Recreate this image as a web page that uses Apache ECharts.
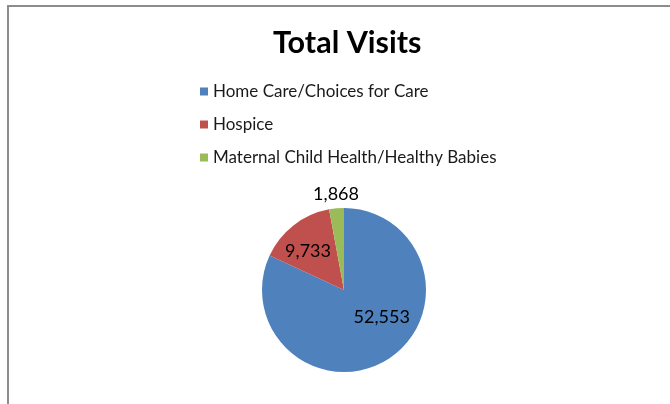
<!DOCTYPE html>
<html>
<head>
<meta charset="utf-8">
<script src="https://cdn.jsdelivr.net/npm/echarts@6/dist/echarts.min.js"></script>
<style>
    html, body { margin: 0; padding: 0; background: #fff; }
    #frame { position: absolute; left: 7px; top: 5px; width: 680px; height: 420px;
             border-top: 2px solid #8c8c8c; border-left: 2px solid #8c8c8c; }
    #main { position: absolute; left: 0; top: 0; width: 670px; height: 404px; }
</style>
</head>
<body>
<div id="frame"></div>
<div id="main"></div>
<script>
var categories = ['Home Care/Choices for Care', 'Hospice', 'Maternal Child Health/Healthy Babies'];
var visits = [52553, 9733, 1868];
var colors = ['#4f81bd', '#c0504d', '#9bbb59'];
// label placement per slice (inside, inside, above the pie)
var labelPos = ['inside', 'inside', 'outside'];
var labelOffset = [[14, -10], [-9, -4], [28, -8]];

var myChart = echarts.init(document.getElementById('main'), null, { renderer: 'canvas' });

var pieData = categories.map(function (name, i) {
    return {
        name: name,
        value: visits[i],
        itemStyle: { color: colors[i] },
        label: { position: labelPos[i], offset: labelOffset[i] }
    };
});

var option = {
    backgroundColor: 'transparent',
    animation: false,
    title: {
        text: 'Total Visits',
        left: 268,
        top: 23,
        textStyle: { fontFamily: 'Lato', fontWeight: 'bold', fontSize: 30.5, color: '#000' }
    },
    legend: {
        orient: 'vertical',
        left: 195,
        top: 78,
        icon: 'rect',
        itemWidth: 8,
        itemHeight: 8,
        itemGap: 16,
        data: categories,
        textStyle: { fontFamily: 'Lato', fontSize: 17, color: '#1a1a1a' }
    },
    series: [
        {
            type: 'pie',
            center: [344, 290],
            radius: 82,
            startAngle: 90,
            clockwise: true,
            avoidLabelOverlap: false,
            data: pieData,
            itemStyle: { borderWidth: 0 },
            label: {
                show: true,
                fontFamily: 'Lato',
                fontSize: 18,
                color: '#000',
                formatter: function (p) { return p.value.toLocaleString('en-US'); }
            },
            labelLine: { show: false, length: 6, length2: 0 },
            emphasis: { disabled: true }
        }
    ]
};

myChart.setOption(option);
</script>
</body>
</html>
